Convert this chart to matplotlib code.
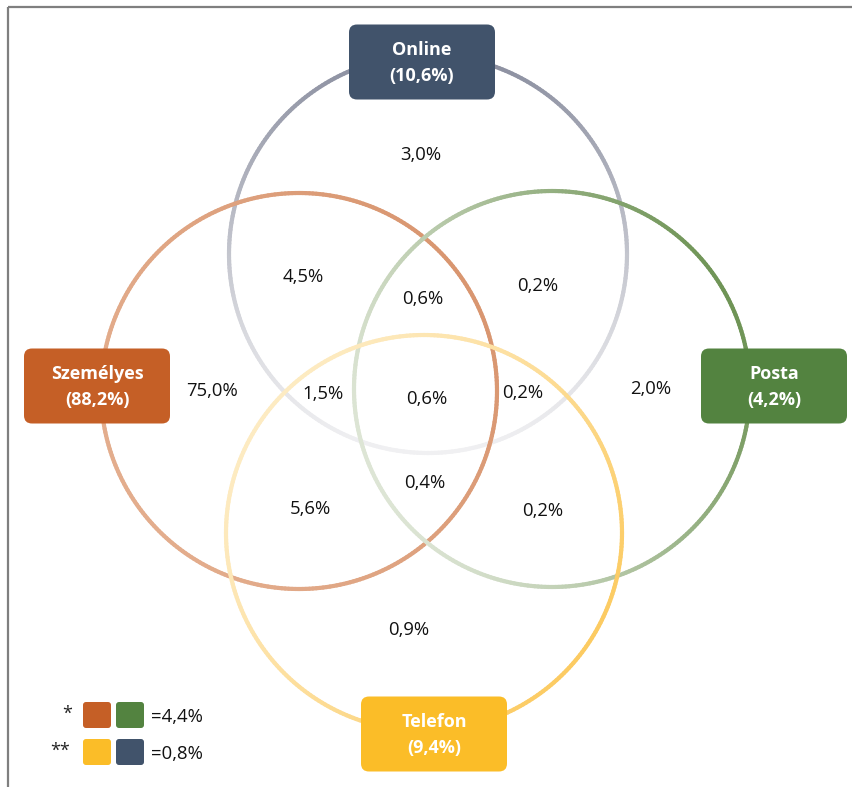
import numpy as np
import matplotlib.pyplot as plt
from matplotlib.collections import LineCollection
from matplotlib.patches import FancyBboxPatch
from matplotlib.colors import to_rgb

plt.rcParams['font.family'] = ['Open Sans', 'DejaVu Sans']

# halmazok (kör középpont, sugár képpontban, szín, címke)
sets = ['Online', 'Személyes', 'Posta', 'Telefon']
set_pct = ['10,6%', '88,2%', '4,2%', '9,4%']
box_colors = ['#41536b', '#c55f26', '#538340', '#fbbd28']
ring_dark = ['#8a8e9f', '#d99670', '#6f9456', '#fccb62']
ring_light = ['#f0f0f2', '#e3ad8d', '#dde5d5', '#fdebc2']
fade_dir = [90, 30, 25, -35]
circle_cx = [428, 299, 552, 424]
circle_cy = [254, 391, 389, 533]
circle_r = [199, 198, 198, 198]
box_cx = [422, 97, 774, 434]
box_cy = [62, 386, 386, 734]

# metszetek értékei
region_vals = ['3,0%', '4,5%', '0,6%', '0,2%', '75,0%', '1,5%', '0,6%',
               '0,2%', '2,0%', '5,6%', '0,4%', '0,2%', '0,9%']
region_x = [421, 303, 423, 538, 212, 323, 427, 523, 651, 310, 425, 543, 409]
region_y = [155, 277, 299, 286, 391, 394, 399, 393, 389, 509, 483, 511, 630]

legend_marks = ['*', '**']
legend_pairs = [('#c55f26', '#538340'), ('#fbbd28', '#41536b')]
legend_vals = ['=4,4%', '=0,8%']

fig = plt.figure(figsize=(8.52, 7.87), dpi=100)
ax = fig.add_axes([0, 0, 1, 1])
ax.set_xlim(0, 852)
ax.set_ylim(787, 0)
ax.axis('off')

# keret (csak felső és bal oldal)
ax.plot([8, 852], [7, 7], color='#7f7f7f', lw=1.6, solid_capstyle='butt')
ax.plot([8, 8], [7, 787], color='#7f7f7f', lw=1.6, solid_capstyle='butt')

t = np.linspace(0, 2 * np.pi, 361)
for i in range(len(sets)):
    x = circle_cx[i] + circle_r[i] * np.cos(t)
    y = circle_cy[i] - circle_r[i] * np.sin(t)
    pts = np.column_stack([x, y]).reshape(-1, 1, 2)
    segs = np.concatenate([pts[:-1], pts[1:]], axis=1)
    tm = (t[:-1] + t[1:]) / 2
    w = 0.5 * (1 + np.cos(tm - np.radians(fade_dir[i])))
    d = np.array(to_rgb(ring_dark[i]))
    l = np.array(to_rgb(ring_light[i]))
    cols = l[None, :] + (d - l)[None, :] * w[:, None] ** 1.2
    lc = LineCollection(segs, colors=cols, linewidths=3.0, capstyle='round', zorder=2 + i * 0.1)
    ax.add_collection(lc)

# feliratos dobozok
bw, bh = 146, 75
for i in range(len(sets)):
    box = FancyBboxPatch((box_cx[i] - bw / 2 + 8, box_cy[i] - bh / 2 + 8), bw - 16, bh - 16,
                         boxstyle='round,pad=8', fc=box_colors[i], ec='none', zorder=5)
    ax.add_patch(box)
    ax.text(box_cx[i], box_cy[i] + 1, f'{sets[i]}\n({set_pct[i]})', color='white',
            fontsize=13, fontweight='bold', ha='center', va='center',
            linespacing=1.55, zorder=6)

for v, x, y in zip(region_vals, region_x, region_y):
    ax.text(x, y, v, fontsize=13.3, ha='center', va='center', color='#111111', zorder=7)

# jelmagyarázat
for k in range(2):
    yc = 715 + k * 37
    ax.text(72 - k * 2, yc - 1, legend_marks[k], fontsize=13, ha='right', va='center', color='#222222')
    for j, c in enumerate(legend_pairs[k]):
        ax.add_patch(FancyBboxPatch((83 + j * 33 + 3, yc - 13 + 3), 22, 20,
                                    boxstyle='round,pad=3', fc=c, ec='none'))
    ax.text(151, yc + 2, legend_vals[k], fontsize=13.3, ha='left', va='center', color='#111111')

fig.savefig('out.png', dpi=100)
